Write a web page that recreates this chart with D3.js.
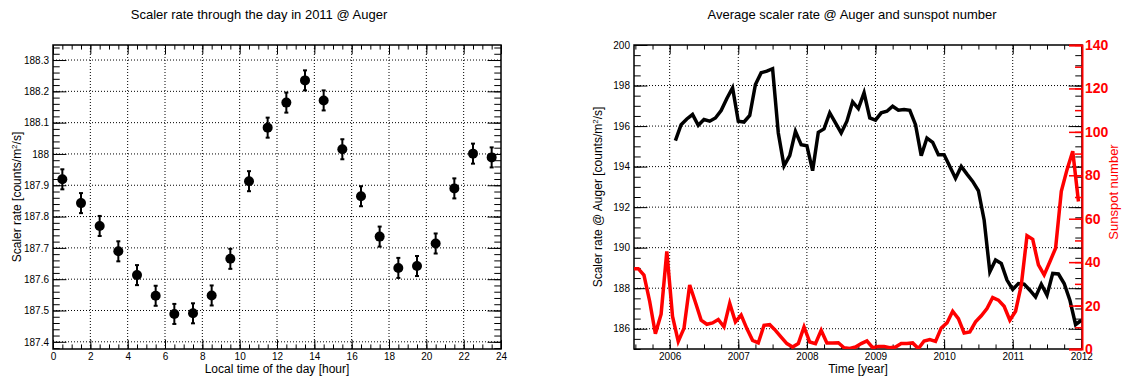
<!DOCTYPE html>
<html>
<head>
<meta charset="utf-8">
<script src="https://cdn.jsdelivr.net/npm/d3@7"></script>
<style>
body { margin: 0; background: #fff; }
text { font-family: "Liberation Sans", Arial, Helvetica, sans-serif; }
</style>
</head>
<body>
<div id="chart"></div>
<script>
// left panel: scaler rate vs local hour (2011)
const hours = [0.5, 1.5, 2.5, 3.5, 4.5, 5.5, 6.5, 7.5, 8.5, 9.5, 10.5, 11.5,
	12.5, 13.5, 14.5, 15.5, 16.5, 17.5, 18.5, 19.5, 20.5, 21.5, 22.5, 23.5]
const hourlyRate = [187.919, 187.843, 187.770, 187.689, 187.613, 187.547, 187.489, 187.491,
	187.548, 187.665, 187.913, 188.084, 188.164, 188.235, 188.171, 188.015,
	187.865, 187.736, 187.636, 187.642, 187.714, 187.890, 188.001, 187.989]
const hourlyErr = [0.032, 0.032, 0.032, 0.032, 0.032, 0.032, 0.032, 0.032,
	0.032, 0.032, 0.032, 0.032, 0.032, 0.032, 0.032, 0.032,
	0.032, 0.032, 0.032, 0.032, 0.032, 0.032, 0.032, 0.032]
const hourTicks = [0, 2, 4, 6, 8, 10, 12, 14, 16, 18, 20, 22, 24]
const rateTicks = [187.4, 187.5, 187.6, 187.7, 187.8, 187.9, 188, 188.1, 188.2, 188.3]

// right panel: monthly scaler rate (Feb 2006 .. Jan 2012) and sunspot number (Jun 2005 .. Dec 2011)
const rateStart = 2006 + 1 / 12
const monthlyRate = [195.28, 196.07, 196.35, 196.57, 196.04, 196.32, 196.24, 196.40, 196.77, 197.36, 197.89, 196.24,
	196.20, 196.52, 198.05, 198.63, 198.71, 198.83, 195.66, 194.04, 194.54, 195.74, 195.08, 195.03,
	193.80, 195.69, 195.86, 196.65, 196.16, 195.66, 196.24, 197.19, 196.86, 197.64, 196.40, 196.29,
	196.65, 196.73, 196.98, 196.78, 196.82, 196.78, 196.07, 194.54, 195.41, 195.20, 194.59, 194.59,
	194.01, 193.43, 194.01, 193.63, 193.27, 192.81, 191.37, 188.81, 189.39, 189.22, 188.40, 187.94,
	188.23, 188.20, 187.90, 187.57, 188.20, 187.66, 188.73, 188.70, 188.23, 187.41, 186.20, 186.42]
const sunspotStart = 2005 + 5.5 / 12
const sunspots = [37, 37, 34, 22, 7, 16, 45,
	15, 3.5, 9.5, 29.5, 21.5, 13.3, 11.4, 12, 13.6, 10.2, 21, 12.5,
	15.6, 9.4, 4, 2.8, 10.9, 11.2, 8.6, 5.5, 2.5, 0.9, 2.5, 10.2,
	3.2, 2.5, 8.6, 2.8, 2.8, 2.9, 0.6, 0.2, 0.9, 2.5, 3.7, 0.6,
	1.2, 1.2, 0.6, 0.9, 2.5, 2.5, 2.8, 0.2, 3.7, 4.3, 3.5, 9.7,
	12.0, 17.4, 14.0, 7.4, 7.9, 12.5, 15.3, 18.6, 23.7, 22.5, 19.7, 13.3,
	17.4, 29.4, 52.2, 50.5, 38.7, 34.1, 40.2, 46.4, 72.6, 82.6, 91.1, 67.9]
const yearTicks = [2006, 2007, 2008, 2009, 2010, 2011, 2012]
const avgTicks = [186, 188, 190, 192, 194, 196, 198, 200]
const sunspotTicks = [0, 20, 40, 60, 80, 100, 120, 140]

const W = 1126, H = 376
const svg = d3.select("#chart").append("svg").attr("width", W).attr("height", H)

function frameAxes(g, x, y, o) {
	const { left, right, top, bottom } = o
	const h = bottom - top, w = right - left
	// dotted grid
	g.append("g").selectAll("line").data(o.xGrid).join("line")
		.attr("x1", d => x(d)).attr("x2", d => x(d)).attr("y1", top).attr("y2", bottom)
		.attr("stroke", "#000").attr("stroke-width", 1).attr("stroke-dasharray", "1,2")
	g.append("g").selectAll("line").data(o.yGrid).join("line")
		.attr("y1", d => y(d)).attr("y2", d => y(d)).attr("x1", left).attr("x2", right)
		.attr("stroke", "#000").attr("stroke-width", 1).attr("stroke-dasharray", "1,2")

	const tickLenX = 0.03 * h, tickLenY = 0.03 * w
	const axes = [
		[d3.axisBottom(x), bottom, 0, tickLenX, o.xTicks, o.xMinor, true],
		[d3.axisTop(x), top, 0, tickLenX, o.xTicks, o.xMinor, false],
		[d3.axisLeft(y), 0, left, tickLenY, o.yTicks, o.yMinor, true],
		[d3.axisRight(y), 0, right, tickLenY, o.yTicks, o.yMinor, false]
	]
	axes.forEach(([ax, ty, tx, len, major, minor, labels]) => {
		const gm = g.append("g").attr("transform", `translate(${tx},${ty})`)
			.call(ax.tickValues(minor).tickSize(-len / 2).tickFormat(""))
		gm.select(".domain").remove()
		const gM = g.append("g").attr("transform", `translate(${tx},${ty})`)
			.call(ax.tickValues(major).tickSize(-len).tickPadding(4).tickFormat(labels ? o.fmt : ""))
		gM.select(".domain").remove()
		gM.selectAll("text").attr("font-size", 10).attr("fill", "#000")
	})
	g.append("rect").attr("x", left).attr("y", top).attr("width", w).attr("height", h)
		.attr("fill", "none").attr("stroke", "#000").attr("stroke-width", 1.5)
}

// ---------- left panel ----------
const L = { left: 53, right: 501, top: 45, bottom: 349 }
const xH = d3.scaleLinear().domain([0, 24]).range([L.left, L.right])
const yH = d3.scaleLinear().domain([187.377, 188.348]).range([L.bottom, L.top])
const gL = svg.append("g")
frameAxes(gL, xH, yH, {
	...L,
	xGrid: hourTicks.slice(1, -1), yGrid: rateTicks,
	xTicks: hourTicks, xMinor: d3.range(0, 24.01, 0.5),
	yTicks: rateTicks, yMinor: d3.range(187.38, 188.35, 0.02),
	fmt: d => String(+d.toFixed(1))
})

const pts = gL.append("g").selectAll("g").data(hours).join("g")
pts.append("line")
	.attr("x1", d => xH(d)).attr("x2", d => xH(d))
	.attr("y1", (d, i) => yH(hourlyRate[i] - hourlyErr[i])).attr("y2", (d, i) => yH(hourlyRate[i] + hourlyErr[i]))
	.attr("stroke", "#000").attr("stroke-width", 2)
pts.selectAll(".cap").data((d, i) => [[d, hourlyRate[i] - hourlyErr[i]], [d, hourlyRate[i] + hourlyErr[i]]]).join("line")
	.attr("x1", d => xH(d[0]) - 2).attr("x2", d => xH(d[0]) + 2)
	.attr("y1", d => yH(d[1])).attr("y2", d => yH(d[1]))
	.attr("stroke", "#000").attr("stroke-width", 2)
pts.append("circle")
	.attr("cx", d => xH(d)).attr("cy", (d, i) => yH(hourlyRate[i]))
	.attr("r", 5).attr("fill", "#000")

svg.append("text").attr("x", 259).attr("y", 19).attr("text-anchor", "middle")
	.attr("font-size", 13).text("Scaler rate through the day in 2011 @ Auger")
svg.append("text").attr("x", 277).attr("y", 373).attr("text-anchor", "middle")
	.attr("font-size", 12).text("Local time of the day [hour]")
const yl1 = svg.append("text").attr("transform", "translate(21,197) rotate(-90)")
	.attr("text-anchor", "middle").attr("font-size", 12)
yl1.append("tspan").text("Scaler rate [counts/m")
yl1.append("tspan").attr("dy", -4).attr("font-size", 8).text("2")
yl1.append("tspan").attr("dy", 4).text("/s]")

// ---------- right panel ----------
const R = { left: 634, right: 1082, top: 45, bottom: 349 }
const xT = d3.scaleLinear().domain([2005.48, 2012.01]).range([R.left, R.right])
const yA = d3.scaleLinear().domain([185, 200]).range([R.bottom, R.top])
const yS = d3.scaleLinear().domain([0, 140]).range([R.bottom, R.top])
const gR = svg.append("g")
frameAxes(gR, xT, yA, {
	...R,
	xGrid: yearTicks.slice(0, -1), yGrid: avgTicks.slice(0, -1),
	xTicks: yearTicks, xMinor: d3.range(2005.5, 2012.01, 0.25),
	yTicks: avgTicks, yMinor: d3.range(185, 200.01, 0.5),
	fmt: d3.format("d")
})

svg.append("clipPath").attr("id", "clipR").append("rect")
	.attr("x", R.left).attr("y", R.top).attr("width", R.right - R.left).attr("height", R.bottom - R.top)

gR.append("path").datum(monthlyRate)
	.attr("clip-path", "url(#clipR)")
	.attr("fill", "none").attr("stroke", "#000").attr("stroke-width", 3.5)
	.attr("d", d3.line().x((d, i) => xT(rateStart + i / 12)).y(d => yA(d)))

gR.append("path").datum(sunspots)
	.attr("clip-path", "url(#clipR)")
	.attr("fill", "none").attr("stroke", "#ff0000").attr("stroke-width", 3.5)
	.attr("d", d3.line().x((d, i) => xT(sunspotStart + i / 12)).y(d => yS(d)))

// red sunspot axis on the right
const gS = gR.append("g").attr("transform", `translate(${R.right},0)`)
const sMinor = gS.append("g").call(d3.axisRight(yS).tickValues(d3.range(0, 141, 10)).tickSize(-7).tickFormat(""))
sMinor.select(".domain").remove()
const sMajor = gS.append("g").call(d3.axisRight(yS).tickValues(sunspotTicks).tickSize(-13).tickPadding(3))
sMajor.select(".domain").attr("stroke", "#ff0000").attr("stroke-width", 2)
gS.selectAll("line").attr("stroke", "#ff0000").attr("stroke-width", 1.5)
sMajor.selectAll("text").attr("fill", "#ff0000").attr("font-size", 14).attr("font-weight", "bold")

svg.append("text").attr("x", 852).attr("y", 19).attr("text-anchor", "middle")
	.attr("font-size", 13).text("Average scaler rate @ Auger and sunspot number")
svg.append("text").attr("x", 858).attr("y", 373).attr("text-anchor", "middle")
	.attr("font-size", 12).text("Time [year]")
const yl2 = svg.append("text").attr("transform", "translate(602,197) rotate(-90)")
	.attr("text-anchor", "middle").attr("font-size", 12)
yl2.append("tspan").text("Scaler rate @ Auger [counts/m")
yl2.append("tspan").attr("dy", -4).attr("font-size", 8).text("2")
yl2.append("tspan").attr("dy", 4).text("/s]")
svg.append("text").attr("transform", "translate(1118,192) rotate(-90)")
	.attr("text-anchor", "middle").attr("font-size", 13).attr("fill", "#ff0000")
	.text("Sunspot number")
</script>
</body>
</html>
